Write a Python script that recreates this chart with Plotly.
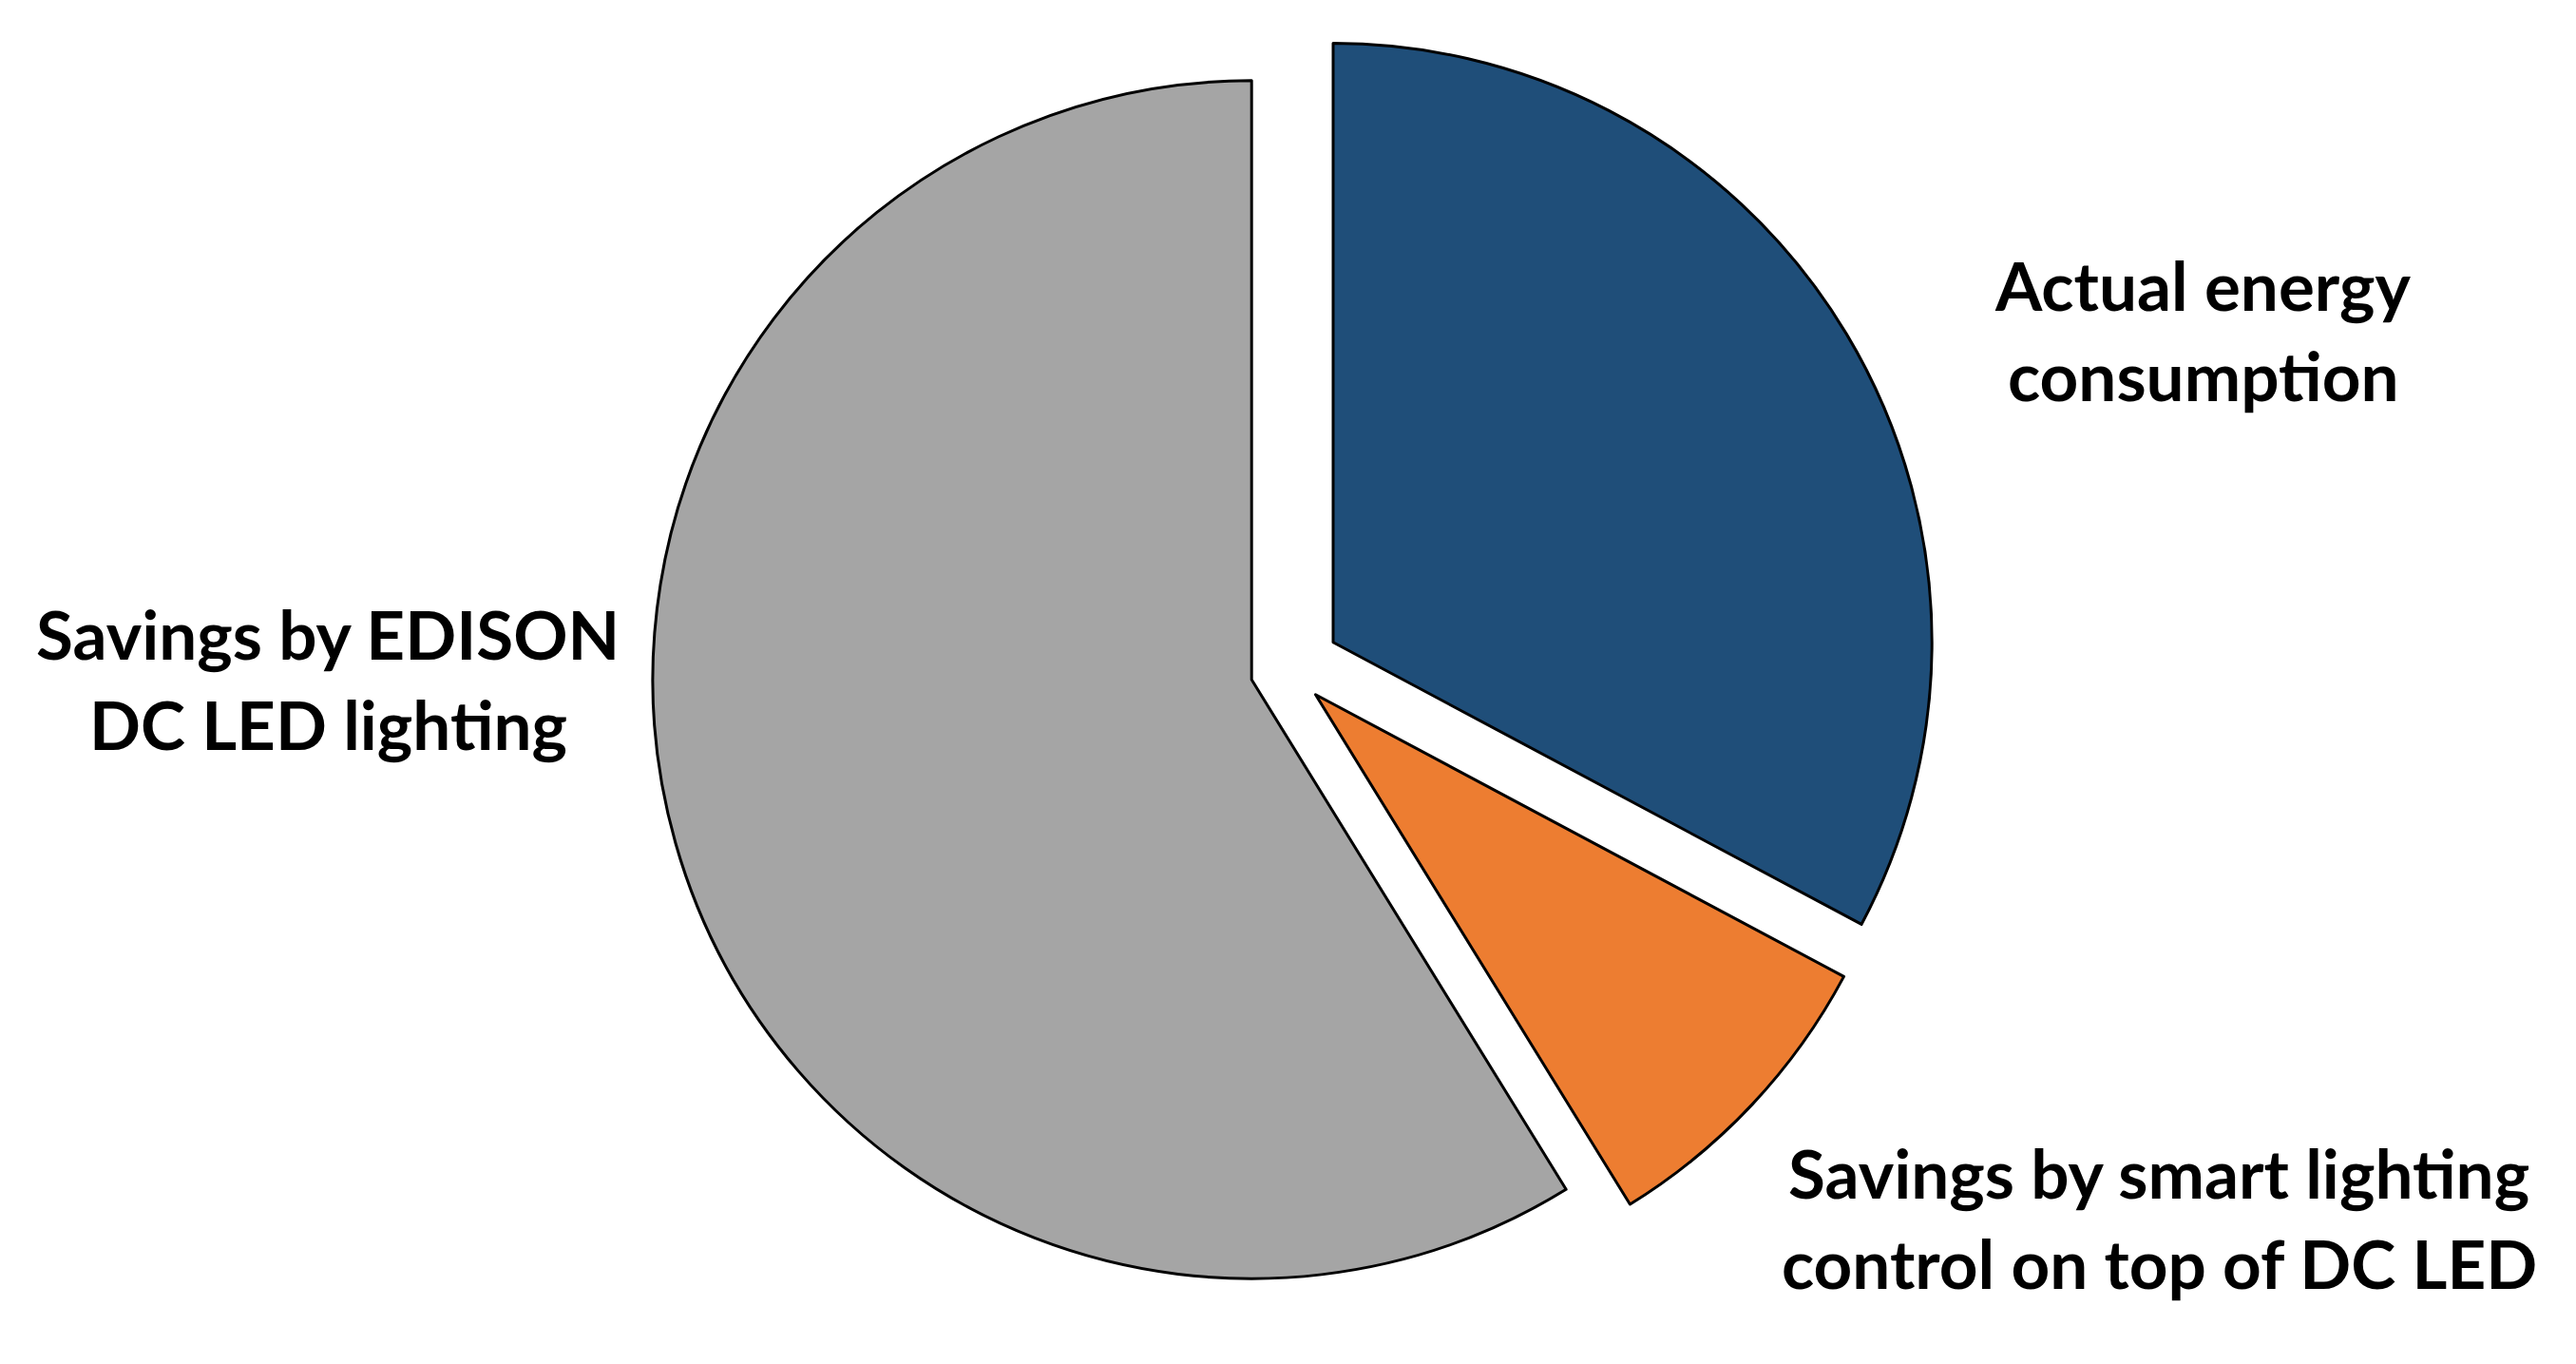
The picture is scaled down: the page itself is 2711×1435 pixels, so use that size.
import plotly.graph_objects as go

categories = ["Actual energy consumption",
              "Savings by smart lighting control on top of DC LED",
              "Savings by EDISON DC LED lighting"]
label_lines = [["Actual energy", "consumption"],
               ["Savings by smart lighting", "control on top of DC LED"],
               ["Savings by EDISON", "DC LED lighting"]]
values = [32.8, 8.4, 58.8]
colors = ["#1F4E79", "#ED7D31", "#A5A5A5"]
pulls = [0.087, 0.062, 0.064]

W, H = 2711, 1435

fig = go.Figure()
fig.add_trace(go.Pie(
    labels=categories, values=values, sort=False, direction="clockwise",
    rotation=0, pull=pulls, textinfo="none", showlegend=False,
    marker=dict(colors=colors, line=dict(color="black", width=3)),
    domain=dict(x=[663 / W, 2033 / W], y=[1 - 1381 / H, 1 - 11 / H]),
))

# label block centers (pixels) and line pitch
centers = [(2310, 339), (2264, 1273), (337, 706)]
pitch = 95
annotations = []
for lines, (cx, cy) in zip(label_lines, centers):
    n = len(lines)
    for i, ln in enumerate(lines):
        py = cy + (i - (n - 1) / 2) * pitch
        annotations.append(dict(
            text=ln, x=cx / W, y=1 - py / H, xref="paper", yref="paper",
            xanchor="center", yanchor="middle", showarrow=False,
            font=dict(family="Lato", size=71, color="black", weight="bold"),
        ))

fig.update_layout(
    width=W, height=H, margin=dict(l=0, r=0, t=0, b=0),
    paper_bgcolor="white", plot_bgcolor="white",
    annotations=annotations,
)
fig.write_html("out.html")
